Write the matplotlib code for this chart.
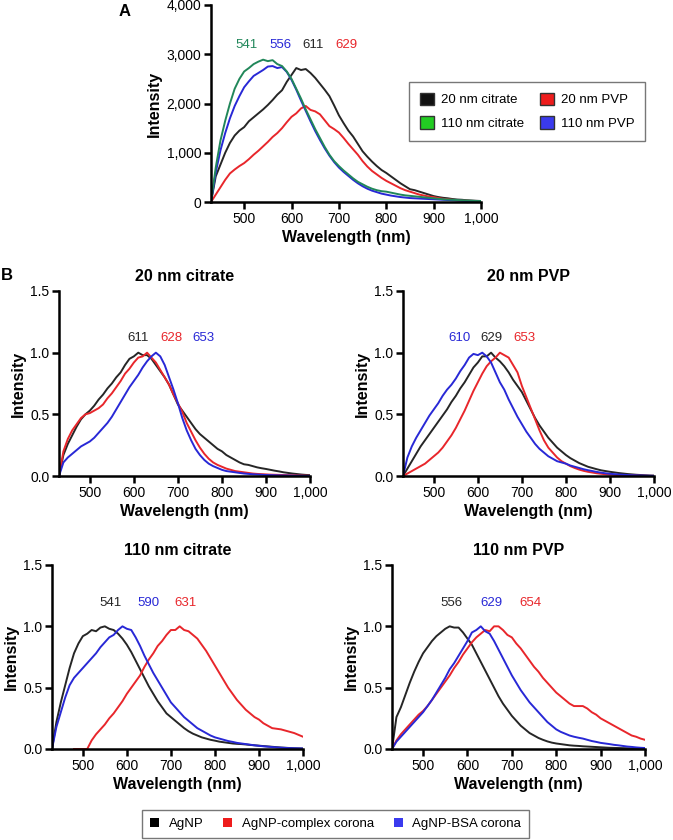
import numpy as np
import matplotlib
matplotlib.use("Agg")
import matplotlib.pyplot as plt
from matplotlib.patches import Patch
from matplotlib.ticker import FuncFormatter

plt.rcParams['font.family'] = ['Liberation Sans', 'DejaVu Sans']

# wavelength grid (nm) shared by every spectrum
wl = np.arange(430, 1001, 10)

# ---- panel A: raw intensities ----
a_20cit = [0, 520, 760, 1000, 1200, 1350, 1450, 1520, 1640, 1720, 1800, 1880, 1970, 2070, 2180, 2270,
           2440, 2580, 2720, 2680, 2700, 2620, 2520, 2400, 2280, 2150, 1960, 1760, 1600, 1450, 1330,
           1180, 1030, 920, 820, 730, 650, 590, 520, 450, 380, 320, 260, 240, 210, 180, 150, 120, 100,
           85, 75, 60, 50, 45, 35, 30, 25, 20]
a_20pvp = [0, 150, 300, 450, 580, 660, 730, 790, 870, 960, 1040, 1130, 1220, 1320, 1400, 1500, 1620,
           1730, 1800, 1900, 1950, 1870, 1840, 1780, 1660, 1540, 1480, 1410, 1300, 1180, 1070, 960, 830,
           720, 630, 560, 490, 430, 380, 330, 280, 240, 210, 180, 150, 130, 110, 100, 80, 65, 55, 45,
           35, 30, 25, 20, 15, 10]
a_110cit = [0, 700, 1250, 1650, 2000, 2300, 2500, 2650, 2720, 2800, 2850, 2890, 2860, 2880, 2800, 2760,
            2650, 2500, 2300, 2100, 1880, 1680, 1480, 1300, 1120, 960, 830, 730, 640, 560, 480, 410, 360,
            310, 270, 240, 220, 210, 190, 170, 150, 135, 125, 115, 105, 95, 85, 75, 65, 55, 50, 45, 40,
            35, 30, 25, 20, 20]
a_110pvp = [0, 600, 1050, 1400, 1700, 1950, 2150, 2330, 2450, 2560, 2620, 2680, 2750, 2760, 2720, 2740,
            2640, 2480, 2280, 2060, 1850, 1640, 1440, 1260, 1090, 940, 810, 700, 610, 530, 450, 380, 320,
            270, 230, 200, 170, 150, 130, 115, 100, 90, 80, 75, 70, 65, 60, 55, 50, 45, 40, 35, 30, 25,
            20, 18, 15, 12]
a_names = ["20 nm citrate", "20 nm PVP", "110 nm citrate", "110 nm PVP"]
a_peaks = ["541", "556", "611", "629"]

# ---- panel B: normalised intensities ----
# 20 nm citrate
agnp_20cit = [0, .17, .26, .33, .40, .46, .50, .53, .57, .62, .66, .71, .75, .80, .84, .90, .95, .97, 1.0,
              .98, .98, .95, .90, .85, .80, .74, .66, .58, .53, .48, .43, .38, .34, .31, .28, .25, .22,
              .20, .17, .15, .13, .11, .095, .09, .08, .07, .063, .057, .05, .043, .037, .03, .025, .02,
              .016, .012, .009, .007]
cplx_20cit = [0, .20, .30, .37, .42, .47, .50, .51, .53, .55, .58, .63, .67, .72, .77, .83, .87, .92, .96,
              .97, 1.0, .96, .92, .86, .80, .74, .66, .59, .52, .43, .36, .29, .23, .18, .14, .11, .09,
              .075, .06, .05, .04, .035, .03, .025, .02, .017, .015, .013, .011, .01, .009, .008, .007,
              .006, .005, .004, .003, .002]
bsa_20cit = [0, .11, .15, .18, .21, .24, .26, .28, .31, .35, .39, .43, .48, .54, .60, .66, .72, .77, .82,
             .88, .93, .97, 1.0, .97, .90, .80, .70, .59, .47, .37, .29, .22, .17, .13, .10, .08, .065,
             .05, .04, .035, .03, .025, .02, .017, .014, .012, .01, .008, .007, .006, .005, .004, .004,
             .003, .002, .002, .001, .001]
# 20 nm PVP
agnp_20pvp = [0, .06, .12, .18, .24, .29, .34, .39, .44, .49, .54, .60, .65, .71, .76, .82, .88, .92, .97,
              .97, 1.0, .96, .93, .89, .84, .78, .73, .68, .61, .54, .47, .41, .36, .31, .27, .23, .20,
              .17, .145, .125, .105, .09, .075, .065, .055, .046, .04, .034, .029, .024, .02, .016, .013,
              .01, .008, .006, .004, .003]
cplx_20pvp = [0, .02, .04, .06, .08, .10, .13, .16, .19, .23, .28, .33, .39, .46, .53, .61, .69, .76, .83,
              .89, .93, .96, 1.0, .98, .96, .90, .84, .73, .64, .55, .46, .37, .29, .23, .19, .15, .12,
              .10, .08, .065, .052, .042, .034, .028, .022, .018, .014, .011, .009, .007, .006, .005,
              .004, .003, .002, .002, .001, .001]
bsa_20pvp = [0, .15, .24, .31, .37, .43, .49, .54, .59, .65, .70, .74, .79, .85, .90, .96, .99, .98, 1.0,
             .97, .92, .84, .76, .70, .62, .55, .48, .42, .36, .31, .26, .22, .19, .16, .14, .12, .11,
             .10, .085, .075, .065, .055, .047, .04, .033, .027, .022, .018, .015, .012, .01, .008,
             .006, .005, .004, .003, .002, .001]
# 110 nm citrate
agnp_110cit = [0, .22, .38, .52, .66, .78, .86, .92, .94, .97, .96, .99, 1.0, .98, .97, .94, .90, .85,
               .79, .72, .65, .58, .51, .45, .39, .34, .29, .26, .23, .20, .17, .145, .125, .11, .095,
               .085, .075, .068, .06, .055, .05, .045, .042, .04, .037, .033, .03, .027, .024, .021,
               .018, .015, .012, .01, .008, .006, .005, .004]
cplx_110cit = [np.nan, np.nan, np.nan, np.nan, np.nan, 0, 0, 0, 0, .07, .12, .16, .20, .25, .29, .34,
               .39, .45, .50, .55, .60, .67, .73, .78, .84, .88, .93, .97, .97, 1.0, .97, .96, .93, .90,
               .85, .80, .74, .68, .62, .56, .50, .45, .40, .36, .32, .29, .26, .24, .21, .19, .17, .165,
               .16, .15, .14, .13, .115, .10]
bsa_110cit = [0, .18, .30, .42, .52, .58, .62, .66, .70, .74, .78, .83, .87, .91, .93, .97, 1.0, .98, .97,
              .91, .84, .76, .69, .62, .56, .50, .44, .38, .34, .30, .26, .23, .20, .17, .15, .13, .11,
              .095, .085, .075, .065, .058, .05, .045, .04, .035, .03, .026, .022, .019, .016, .013,
              .011, .009, .007, .006, .005, .004]
# 110 nm PVP
agnp_110pvp = [0, .26, .34, .44, .54, .63, .71, .78, .83, .88, .92, .95, .98, 1.0, .99, .99, .95, .90,
               .85, .78, .71, .64, .57, .50, .43, .37, .32, .27, .23, .19, .16, .13, .11, .09, .075,
               .062, .052, .045, .04, .035, .03, .027, .025, .022, .02, .018, .016, .014, .012, .01,
               .009, .008, .007, .006, .005, .004, .003, .002]
cplx_110pvp = [0, .07, .12, .16, .20, .24, .28, .31, .35, .40, .45, .50, .55, .60, .66, .71, .77, .82,
               .87, .91, .94, .97, .96, 1.0, 1.0, .97, .93, .91, .86, .82, .77, .72, .67, .63, .58, .54,
               .50, .46, .43, .40, .37, .35, .35, .35, .33, .30, .28, .25, .23, .21, .19, .17, .15, .13,
               .11, .10, .085, .075]
bsa_110pvp = [0, .06, .10, .14, .18, .22, .26, .30, .35, .40, .46, .52, .58, .65, .70, .76, .82, .88,
              .95, .97, 1.0, .96, .94, .88, .81, .74, .67, .60, .54, .48, .43, .38, .34, .30, .26, .22,
              .19, .16, .14, .125, .11, .10, .092, .085, .075, .065, .058, .05, .045, .04, .034, .03,
              .025, .02, .017, .013, .01, .008]

b_titles = ["20 nm citrate", "20 nm PVP", "110 nm citrate", "110 nm PVP"]
b_series = [
    (agnp_20cit, cplx_20cit, bsa_20cit),
    (agnp_20pvp, cplx_20pvp, bsa_20pvp),
    (agnp_110cit, cplx_110cit, bsa_110cit),
    (agnp_110pvp, cplx_110pvp, bsa_110pvp),
]
# peak labels: (AgNP, complex corona, BSA corona)
b_peaks = [("611", "628", "653"), ("629", "653", "610"), ("541", "631", "590"), ("556", "654", "629")]
b_names = ["AgNP", "AgNP-complex corona", "AgNP-BSA corona"]

BLACK = "#262626"
RED = "#e8262b"
BLUE = "#2828d6"
GREEN = "#21875a"

W, H = 673, 840
fig = plt.figure(figsize=(W / 100, H / 100), dpi=100)


def px_axes(l, t, r, b):
    return fig.add_axes([l / W, 1 - b / H, (r - l) / W, (b - t) / H])


def style(ax, ymax, yfmt):
    for s in ["top", "right"]:
        ax.spines[s].set_visible(False)
    for s in ["left", "bottom"]:
        ax.spines[s].set_linewidth(1.8)
    ax.set_xlim(430, 1000)
    ax.set_ylim(0, ymax)
    ax.set_xticks([500, 600, 700, 800, 900, 1000])
    ax.xaxis.set_major_formatter(FuncFormatter(lambda v, p: f"{v:,.0f}"))
    ax.yaxis.set_major_formatter(FuncFormatter(yfmt))
    ax.tick_params(direction="out", length=5, width=1.8, labelsize=10, pad=2)
    ax.set_xlabel("Wavelength (nm)", fontsize=11.5, fontweight="bold", labelpad=3)
    ax.set_ylabel("Intensity", fontsize=11.5, fontweight="bold", labelpad=3)


# ---- panel A ----
axA = px_axes(211, 5, 481, 202)
axA.plot(wl, a_20cit, color=BLACK, lw=1.4)
axA.plot(wl, a_20pvp, color=RED, lw=1.4)
axA.plot(wl, a_110pvp, color=BLUE, lw=1.4)
axA.plot(wl, a_110cit, color=GREEN, lw=1.4)
style(axA, 4000, lambda v, p: f"{v:,.0f}")
axA.set_yticks([0, 1000, 2000, 3000, 4000])
for txt, x, c in zip(a_peaks, [505, 576, 646, 715], [GREEN, BLUE, BLACK, RED]):
    axA.text(x, 3190, txt, color=c, fontsize=9.5, ha="center", va="center")

a_handles = [Patch(facecolor="#111111", edgecolor="#333333", label=a_names[0]),
             Patch(facecolor="#22cc22", edgecolor="#333333", label=a_names[2]),
             Patch(facecolor="#ee1c1c", edgecolor="#333333", label=a_names[1]),
             Patch(facecolor="#3a3aee", edgecolor="#333333", label=a_names[3])]
legA = fig.legend(handles=a_handles, ncol=2, loc="upper left", bbox_to_anchor=(409 / W, 1 - 82 / H),
                  fontsize=9.5, frameon=True, fancybox=False, borderaxespad=0, handlelength=1.1,
                  handleheight=1.1, handletextpad=0.5, columnspacing=1.2, labelspacing=0.75,
                  borderpad=0.8)
legA.get_frame().set_edgecolor("#555555")
legA.get_frame().set_linewidth(1.0)

# ---- panel B ----
b_boxes = [(59, 291, 310, 476), (403, 291, 654, 476), (52, 565, 303, 749), (392, 565, 645, 749)]
b_label_x = [(609, 686, 758), (631, 705, 558), (564, 734, 650), (563, 742, 653)]
b_label_y = [1.12, 1.12, 1.19, 1.19]
for box, title, series, peaks, lx, ly in zip(b_boxes, b_titles, b_series, b_peaks, b_label_x, b_label_y):
    ax = px_axes(*box)
    agnp, cplx, bsa = series
    ax.plot(wl, agnp, color=BLACK, lw=1.4)
    ax.plot(wl, cplx, color=RED, lw=1.4)
    ax.plot(wl, bsa, color=BLUE, lw=1.4)
    style(ax, 1.5, lambda v, p: f"{v:.1f}")
    ax.set_yticks([0, 0.5, 1.0, 1.5])
    ax.set_title(title, fontsize=11.5, fontweight="bold", pad=7)
    for txt, x, c in zip(peaks, lx, [BLACK, RED, BLUE]):
        ax.text(x, ly, txt, color=c, fontsize=9.5, ha="center", va="center")

b_handles = [Patch(facecolor="#000000", label=b_names[0]),
             Patch(facecolor="#ee1c1c", label=b_names[1]),
             Patch(facecolor="#3a3aee", label=b_names[2])]
legB = fig.legend(handles=b_handles, ncol=3, loc="center", bbox_to_anchor=(335.5 / W, 1 - 824 / H),
                  fontsize=9.5, frameon=True, fancybox=False, borderaxespad=0, handlelength=0.7,
                  handleheight=0.7, handletextpad=0.7, columnspacing=1.5, borderpad=0.6)
legB.get_frame().set_edgecolor("#555555")
legB.get_frame().set_linewidth(1.0)

fig.text(125 / W, 1 - 12 / H, "A", fontsize=12, fontweight="bold", ha="center", va="center")
fig.text(7 / W, 1 - 276 / H, "B", fontsize=12, fontweight="bold", ha="center", va="center")

fig.savefig("out.png", dpi=100)
